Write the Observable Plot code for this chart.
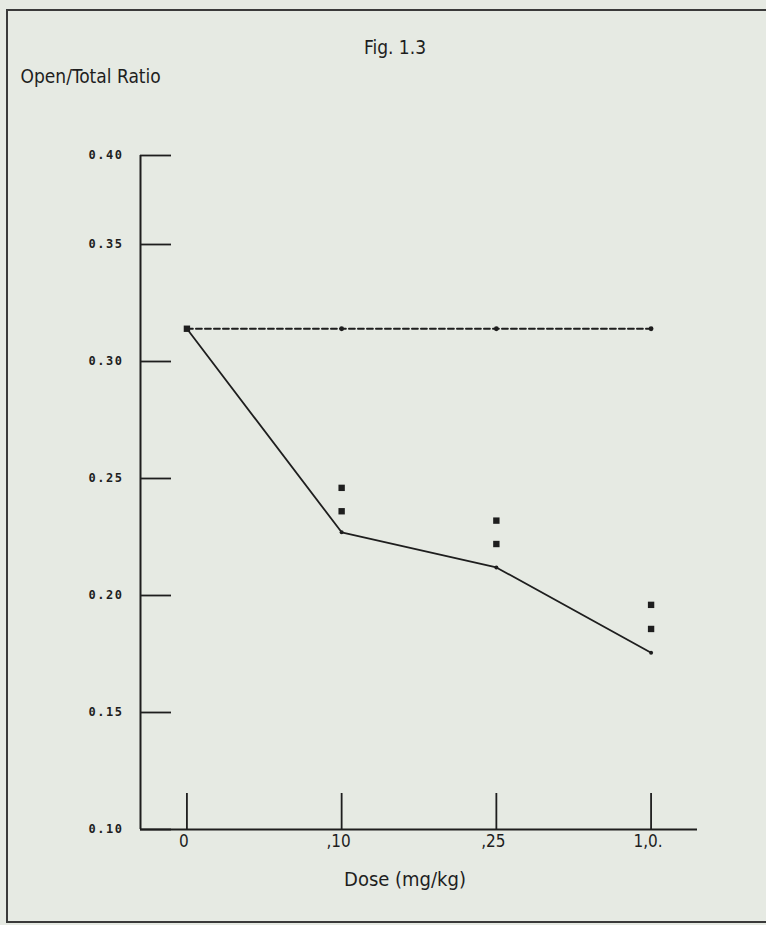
<!DOCTYPE html>
<html><head><meta charset="utf-8">
<script src="https://cdn.jsdelivr.net/npm/d3@7"></script>
<script src="https://cdn.jsdelivr.net/npm/@observablehq/plot@0.6"></script>
<style>
html,body{margin:0;padding:0;background:#e6eae3;}
#wrap{position:relative;width:766px;height:925px;overflow:hidden;}
#border{position:absolute;left:6px;top:9px;width:800px;height:914px;border:2px solid #3a3a3a;box-sizing:border-box;}
#wrap svg{position:absolute;left:0;top:0;}
g[font-family="DejaVu Sans Mono"] text{letter-spacing:1.5px;}
</style></head><body><div id="wrap"><div id="border"></div></div>
<script>
// Data
const doses = [0, 1, 2, 3];
const doseLabels = ["0", ",10", ",25", "1,0."];
const controlRatio = [0.314, 0.314, 0.314, 0.314];
const drugRatio = [0.314, 0.227, 0.212, 0.1755];
const markDoses = [1, 2, 3];
const upperMarks = [0.246, 0.232, 0.196];
const lowerMarks = [0.236, 0.222, 0.1857];
const yTicks = [0.10, 0.15, 0.20, 0.25, 0.30, 0.35, 0.40];
const title = "Fig. 1.3";
const yLabel = "Open/Total Ratio";
const xLabel = "Dose (mg/kg)";

const xDomain = [-0.3, 3.3];
const ink = "#1e1e1e";
const plotFont = "DejaVu Sans Condensed, DejaVu Sans, sans-serif";

const control = doses.map((d, i) => ({dose: d, v: controlRatio[i]}));
const drug = doses.map((d, i) => ({dose: d, v: drugRatio[i]}));
const marks = markDoses.flatMap((d, i) => [{dose: d, v: upperMarks[i]}, {dose: d, v: lowerMarks[i]}]);

const chart = Plot.plot({
  width: 766,
  height: 925,
  marginLeft: 140,
  marginRight: 69,
  marginTop: 155,
  marginBottom: 96,
  style: {background: "transparent", overflow: "visible"},
  x: {type: "linear", domain: xDomain, axis: null},
  y: {type: "linear", domain: [0.10, 0.35, 0.40], range: [829, 244, 155], axis: null},
  marks: [
    // axes lines
    Plot.ruleX([xDomain[0]], {x: d => d, y1: 0.10, y2: 0.40, stroke: ink, strokeWidth: 2}),
    Plot.ruleY([0.10], {y: d => d, stroke: ink, strokeWidth: 2}),
    Plot.tickY(yTicks, {y: d => d, insetRight: 526, stroke: ink, strokeWidth: 1.8}),
    Plot.tickX(doses, {x: d => d, insetTop: 638, stroke: ink, strokeWidth: 1.8}),
    // tick labels
    Plot.text(yTicks, {y: d => d, text: d => d.toFixed(2), frameAnchor: "left", textAnchor: "end", dx: -17,
      fontFamily: "DejaVu Sans Mono", fontWeight: "bold", fontSize: 12, fill: ink}),
    Plot.text(doses, {x: d => d, text: i => doseLabels[i], frameAnchor: "bottom", dy: 17, dx: -3,
      fontFamily: plotFont, fontSize: 17, fill: ink}),
    // labels
    Plot.text([xLabel], {text: d => d, frameAnchor: "bottom", dx: -14, dy: 56, fontFamily: plotFont, fontSize: 20, fill: ink}),
    Plot.text([yLabel], {text: d => d, frameAnchor: "top-left", textAnchor: "start", dx: -120, dy: -86, fontFamily: plotFont, fontSize: 19, fill: ink}),
    Plot.text([title], {text: d => d, frameAnchor: "top", dx: -24, dy: -115, fontFamily: plotFont, fontSize: 19, fill: ink}),
    // data
    Plot.line(control, {x: "dose", y: "v", stroke: ink, strokeWidth: 1.8, strokeDasharray: "6,3"}),
    Plot.line(drug, {x: "dose", y: "v", stroke: ink, strokeWidth: 1.8}),
    Plot.dot(control.slice(1), {x: "dose", y: "v", r: 2.4, fill: ink}),
    Plot.dot(drug.slice(1), {x: "dose", y: "v", r: 2, fill: ink}),
    Plot.dot(drug.slice(0, 1), {x: "dose", y: "v", symbol: "square", r: 3.6, fill: ink}),
    Plot.dot(marks, {x: "dose", y: "v", symbol: "square", r: 3.6, fill: ink})
  ]
});
document.getElementById("wrap").appendChild(chart);
</script>
</body></html>
